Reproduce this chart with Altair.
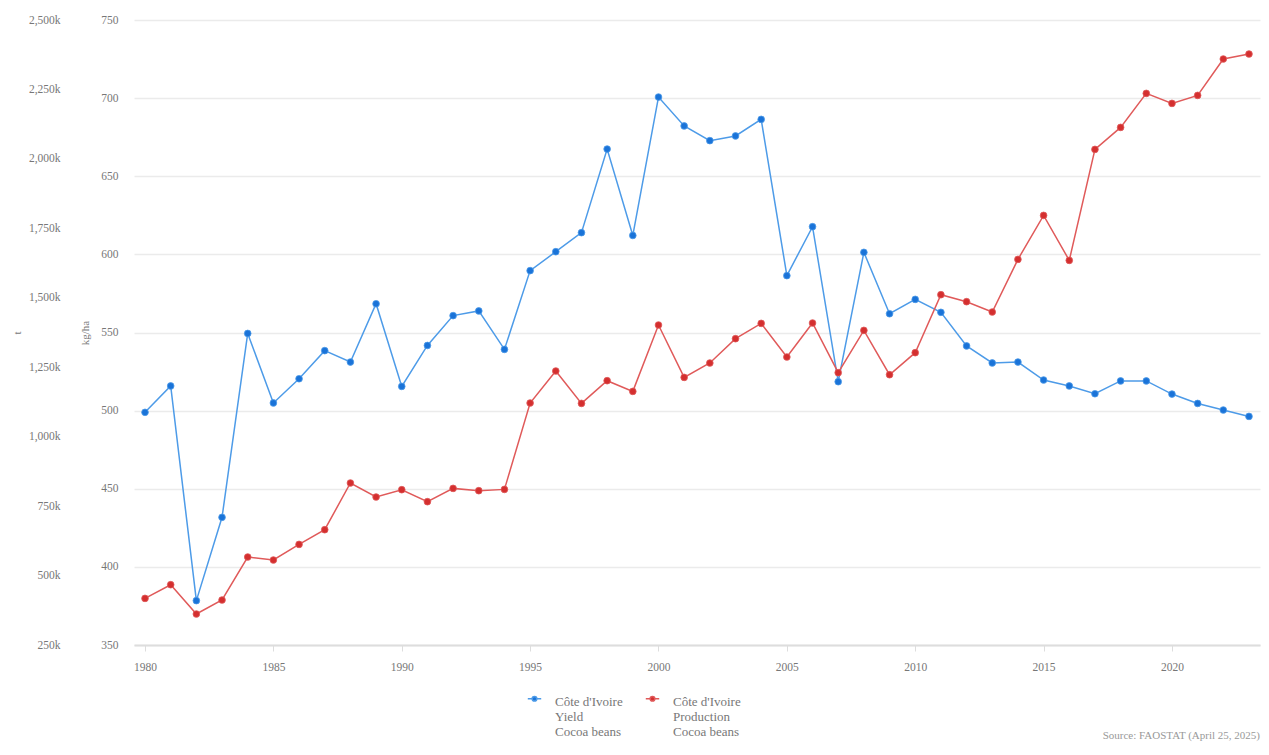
import altair as alt
import pandas as pd

years = list(range(1980, 2024))

yield_kg_ha = [498.9, 515.8, 378.4, 431.7, 549.4, 504.9, 520.4, 538.4, 531.1, 568.4,
               515.5, 541.7, 560.8, 563.8, 539.2, 589.6, 601.7, 613.9, 667.4, 612.1,
               700.7, 682.2, 672.8, 675.8, 686.4, 586.4, 617.7, 518.5, 601.3, 562.0,
               571.2, 562.9, 541.4, 530.5, 531.1, 519.6, 515.8, 510.8, 519.0, 519.0,
               510.6, 504.6, 500.4, 496.3]

production_t = [417.8, 467.0, 361.6, 412.0, 566.8, 556.0, 612.2, 665.0, 833.2, 782.8,
                809.0, 765.9, 813.8, 805.5, 810.2, 1121.2, 1236.4, 1119.8, 1201.5, 1163.0,
                1402.0, 1213.4, 1265.2, 1352.7, 1407.8, 1286.8, 1409.2, 1230.3, 1382.6, 1223.0,
                1302.3, 1511.0, 1485.9, 1448.8, 1638.2, 1796.6, 1634.6, 2034.2, 2113.4, 2235.8,
                2199.8, 2228.6, 2359.6, 2377.6]
production_t = [v * 1000 for v in production_t]

series_names = ["Côte d'Ivoire|Yield|Cocoa beans", "Côte d'Ivoire|Production|Cocoa beans"]
line_colors = ["#4d9be8", "#e05a5a"]
point_colors = ["#1a73d8", "#d42f2f"]

x_ticks = [1980, 1985, 1990, 1995, 2000, 2005, 2010, 2015, 2020]
yield_ticks = [350, 400, 450, 500, 550, 600, 650, 700, 750]
prod_ticks = [250000 * i for i in range(1, 11)]

df_yield = pd.DataFrame({"year": years, "value": yield_kg_ha, "series": series_names[0]})
df_prod = pd.DataFrame({"year": years, "value": production_t, "series": series_names[1]})

FONT = "Liberation Serif"
GRAY = "#777777"

x_enc = alt.X("year:Q",
              scale=alt.Scale(domain=[1979.571, 2023.429], nice=False, zero=False),
              axis=alt.Axis(values=x_ticks, format="d", title=None, grid=False,
                            domainColor="#dddddd", domainWidth=2, tickColor="#dddddd",
                            tickSize=6, labelPadding=10, labelFontSize=11.5, labelColor=GRAY,
                            labelFont=FONT))

legend = alt.Legend(title=None, orient="none", legendX=393, legendY=668,
                    direction="horizontal",
                    labelExpr="split(datum.label, '|')",
                    labelFont=FONT, labelFontSize=13, labelColor=GRAY,
                    labelLimit=200, columnPadding=19,
                    symbolType="M-1,0.45L-0.4,0.45M0.4,0.45L1,0.45M0.35,0.45A0.35,0.35,0,1,1,-0.35,0.45A0.35,0.35,0,1,1,0.35,0.45Z",
                    symbolSize=180, symbolStrokeWidth=1.5, symbolOpacity=1,
                    labelOffset=13, labelBaseline="top")

stroke_enc = alt.Stroke("series:N", scale=alt.Scale(domain=series_names, range=line_colors),
                        legend=legend)
fill_enc = alt.Fill("series:N", scale=alt.Scale(domain=series_names, range=point_colors),
                    legend=legend)


def make_layer(df, title, domain, ticks, label_expr, offset, title_pad):
    base = alt.Chart(df)
    y_enc = alt.Y("value:Q",
                  scale=alt.Scale(domain=domain, nice=False, zero=False),
                  axis=alt.Axis(orient="left", values=ticks, title=title, offset=offset,
                                titleFont=FONT, titleFontSize=11, titleFontWeight="normal",
                                titleColor=GRAY, titlePadding=title_pad,
                                labelFont=FONT, labelFontSize=11.5, labelColor=GRAY,
                                labelExpr=label_expr, domain=False, ticks=False,
                                labelPadding=16, gridColor="#ebebeb", gridWidth=1.5))
    line = base.mark_line(strokeWidth=1.5).encode(x=x_enc, y=y_enc, stroke=stroke_enc)
    pts = base.mark_point(filled=True, size=45, strokeWidth=0.8, opacity=1).encode(
        x=x_enc, y=y_enc, fill=fill_enc, stroke=stroke_enc)
    return alt.layer(line, pts)


yield_layer = make_layer(df_yield, "kg/ha", [350, 750], yield_ticks,
                         "format(datum.value, 'd')", 0, 10)
prod_layer = make_layer(df_prod, "t", [250000, 2500000], prod_ticks,
                        "format(datum.value/1000, ',') + 'k'", 58, 6)

chart = alt.layer(yield_layer, prod_layer).resolve_scale(y="independent").properties(
    width=1126, height=625,
    padding={"left": 126, "top": 12, "right": 1, "bottom": 100},
    autosize=alt.AutoSizeParams(type="none"),
    title=alt.TitleParams("Source: FAOSTAT (April 25, 2025)", orient="bottom", anchor="end",
                          font=FONT, fontSize=11, fontWeight="normal", color="#999999",
                          offset=-9),
).configure_view(stroke=None)

chart.save("out.html", embed_options={"renderer": "svg", "actions": False})
